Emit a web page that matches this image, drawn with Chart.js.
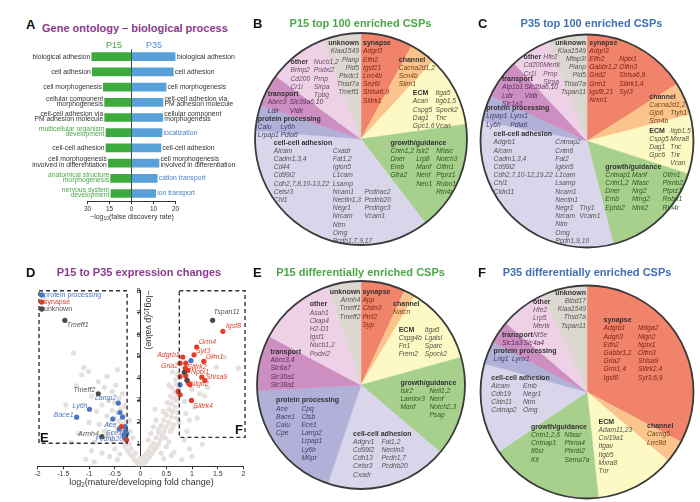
<!DOCTYPE html>
<html>
<head>
<meta charset="utf-8">
<script src="https://cdn.jsdelivr.net/npm/chart.js@4.4.1/dist/chart.umd.min.js"></script>
<style>
body { margin: 0; background: #fff; }
#fig { position: relative; width: 700px; height: 502px; overflow: hidden; font-family: "Liberation Sans", Arial, sans-serif; color: #333; }
#fig canvas { position: absolute; }
.t { position: absolute; line-height: 1; white-space: nowrap; }
.c { transform: translateX(-50%); }
.letter { font-weight: bold; font-size: 13px; color: #111; }
.ttl { font-weight: bold; font-size: 11px; }
sub { font-size: 70%; vertical-align: -0.25em; line-height: 0; }
</style>
</head>
<body>
<div id="fig">
  <canvas id="goLeft" width="140" height="180" style="left:0px;top:40px"></canvas>
  <canvas id="goRight" width="126" height="180" style="left:124px;top:40px"></canvas>
  <canvas id="pieB" width="224" height="224" style="left:248.5px;top:27px"></canvas>
  <canvas id="pieC" width="224" height="224" style="left:474.7px;top:29px"></canvas>
  <canvas id="volcano" width="252" height="215" style="left:0px;top:280px"></canvas>
  <canvas id="pieE" width="224" height="224" style="left:248.6px;top:272.5px"></canvas>
  <canvas id="pieF" width="224" height="224" style="left:474.7px;top:279.7px"></canvas>

  <div class="t letter" style="left:26px;top:17.8px">A</div>
  <div class="t ttl" style="left:42px;top:22.5px;color:#8b3a8f">Gene ontology – biological process</div>
  <div class="t c" style="left:114px;top:40.5px;font-size:9px;color:#45a845">P15</div>
  <div class="t c" style="left:154px;top:40.5px;font-size:9px;color:#4f8fd0">P35</div>
  <div class="t c" style="left:132px;top:213.2px;font-size:7px">−log<sub>10</sub>(false discovery rate)</div>

  <div class="t letter" style="left:253px;top:16.5px">B</div>
  <div class="t ttl c" style="left:360.5px;top:17.8px;color:#4ba748">P15 top 100 enriched CSPs</div>
  <div class="t letter" style="left:478px;top:16.8px">C</div>
  <div class="t ttl c" style="left:591.5px;top:17.8px;color:#3f6fb5">P35 top 100 enriched CSPs</div>

  <div class="t letter" style="left:26px;top:266px">D</div>
  <div class="t ttl c" style="left:139px;top:266.5px;color:#8b3a8f">P15 to P35 expression changes</div>
  <div class="t c" style="left:141.5px;top:477.5px;font-size:9px">log<sub>2</sub>(mature/developing fold change)</div>
  <div class="t" style="left:148px;top:320px;font-size:9px;transform:translate(-50%,-50%) rotate(90deg)">−log<sub>10</sub>(p value)</div>

  <div class="t letter" style="left:253px;top:266px">E</div>
  <div class="t ttl c" style="left:360.5px;top:267px;color:#4ba748">P15 differentially enriched CSPs</div>
  <div class="t letter" style="left:478px;top:266px">F</div>
  <div class="t ttl c" style="left:587px;top:266.8px;color:#3f6fb5">P35 differentially enriched CSPs</div>
</div>

<script>
// ---- panel A: GO terms ----
const GO_P15 = ['biological adhesion', 'cell adhesion', 'cell morphogenesis',
  'cellular component\nmorphogenesis', 'cell-cell adhesion via\nPM adhesion molecule',
  'multicellular organism\ndevelopment', 'cell-cell adhesion',
  'cell morphogenesis\ninvolved in differentiation', 'anatomical structure\nmorphogenesis',
  'nervous system\ndevelopment'];
const GO_P15_VAL = [27.1, 26.7, 19.2, 18.3, 18.3, 17.4, 17.4, 15.8, 14.2, 14.0];
const GO_P35 = ['biological adhesion', 'cell adhesion', 'cell morphogenesis',
  'cell-cell adhesion via\nPM adhesion molecule', 'cellular component\nmorphogenesis',
  'localization', 'cell-cell adhesion', 'cell morphogenesis\ninvolved in differentiation',
  'cation transport', 'ion transport'];
const GO_P35_VAL = [20.0, 19.0, 15.7, 14.3, 14.2, 13.9, 13.4, 12.5, 11.7, 11.0];
const GO_P15_TICKS = [0, 15, 30];
const GO_P35_TICKS = [0, 10, 20];

// ---- pies: categories and gene counts ----
const CATS = ['synapse', 'channel', 'ECM', 'growth/guidance', 'cell-cell adhesion',
  'protein processing', 'transport', 'other', 'unknown'];
const B_COUNTS = [8, 4, 11, 17, 37, 4, 5, 9, 6];
const C_COUNTS = [16, 5, 9, 16, 32, 4, 6, 6, 6];
const E_COUNTS = [4, 1, 7, 9, 11, 11, 5, 7, 3];
const F_COUNTS = [19, 2, 7, 10, 8, 2, 2, 4, 4];

const B_GENES = [
  ['Adgrl3', 'Elfn2', 'Igsf21', 'Lrrc4b', 'Sez6l', 'Shisa6,9', 'Slitrk1'],
  ['Cacna2d1,2', 'Scn4b', 'Stim1'],
  ['Acan', 'Cspg5', 'Dag1', 'Gpc1,6', 'Itga5', 'Itgb1,5', 'Spock2', 'Tnc', 'Vcan'],
  ['Cntn1,2', 'Dner', 'Emb', 'Gfra2', 'Islr2', 'Lrp8', 'Manf', 'Nenf', 'Neo1',
   'Nfasc', 'Notch3', 'Olfm1', 'Ptprz1', 'Robo1', 'Rtn4r'],
  ['Alcam', 'Cadm1,3,4', 'Cd44', 'Cd99l2', 'Cdh2,7,8,10-13,22', 'Celsr3', 'Chl1',
   'Cxadr', 'Fat1,2', 'Iglon5', 'L1cam', 'Lsamp', 'Ncam1', 'Nectin1,3', 'Negr1', 'Nrcam',
   'Ntm', 'Omg', 'Pcdh1,7,9,17', 'Pcdhac2', 'Pcdhb20', 'Pcdhgc3', 'Vcam1'],
  ['Calu', 'Lrpap1', 'Ly6h', 'Pdia6'],
  ['Abcc3', 'Ldlr', 'Slc39a6,10', 'Vldlr'],
  ['Brinp2', 'Cd200', 'Cr1l', 'Nucb1,2', 'Podxl2', 'Prnp', 'Sirpa', 'Tpbg'],
  ['Kiaa1549', 'Pianp', 'Pld5', 'Plxdc1', 'Thsd7a', 'Tmeff1']
];
const C_GENES = [
  ['Adgrl3', 'Elfn2', 'Gabbr1,2', 'Grid2', 'Grm1', 'Igsf8,21', 'Nrxn1',
   'Nptx1', 'Olfm3', 'Shisa6,9', 'Slitrk1,4', 'Syt3'],
  ['Cacna2d1,2', 'Gjb6', 'Scn4b', 'Ttyh1'],
  ['Cspg5', 'Dag1', 'Gpc6', 'Itgb1,5', 'Mxra8', 'Tnc', 'Tnr', 'Vcan'],
  ['Cntnap1', 'Cntn1,2', 'Dner', 'Emb', 'Ephb2', 'Manf', 'Nfasc', 'Nrg2', 'Ntng2', 'Ntrk2',
   'Olfm1', 'Plxnb2', 'Ptprz1', 'Robo1', 'Rtn4r'],
  ['Adgrb1', 'Alcam', 'Cadm1,3,4', 'Cd99l2', 'Cdh2,7,10-12,19,22', 'Chl1', 'Cldn11',
   'Cntnap2', 'Cntn6', 'Fat2', 'Iglon5', 'L1cam', 'Lsamp', 'Ncam1', 'Nectin1', 'Negr1',
   'Nrcam', 'Ntm', 'Omg', 'Pcdh1,9,10', 'Thy1', 'Vcam1'],
  ['Lrpap1', 'Ly6h', 'Lynx1', 'Pdia6'],
  ['Atp1b1', 'Ldlr', 'Slc1a3', 'Slc39a6,10', 'Vldlr'],
  ['Cd200', 'Cr1l', 'Hfe2', 'Mertk', 'Prnp', 'Sirpa'],
  ['Kiaa1549', 'Mfap3l', 'Pianp', 'Pld5', 'Thsd7a', 'Tspan11']
];
const E_GENES = [
  ['App', 'Clstn3', 'Prrt2', 'Syp'],
  ['Nalcn'],
  ['Cspg4b', 'Fn1', 'Frem2', 'Itga5', 'Lgalsl', 'Sparc', 'Spock2'],
  ['Islr2', 'Lamtor3', 'Manf', 'Nell1,2', 'Nenf', 'Notch2,3', 'Psap'],
  ['Adgrv1', 'Cd99l2', 'Cdh13', 'Celsr3', 'Cxadr', 'Fat1,2', 'Nectin3', 'Pcdh1,7', 'Pcdhb20'],
  ['Ace', 'Bace1', 'Calu', 'Cpe', 'Cpq', 'Ctsb', 'Ece1', 'Lamp2', 'Lrpap1', 'Ly6h', 'M6pr'],
  ['Abcc3,4', 'Slc6a7', 'Slc30a1', 'Slc38a1'],
  ['Asah1', 'Ckap4', 'H2-D1', 'Igsf1', 'Nucb1,2', 'Podxl2'],
  ['Armh4', 'Tmeff1', 'Tmeff2']
];
const F_GENES = [
  ['Adgrb1', 'Adgrl3', 'Elfn2', 'Gabbr1,2', 'Gria2', 'Grm1,4', 'Igsf8',
   'Mdga2', 'Nlgn2', 'Nptx1', 'Olfm3', 'Shisa9', 'Slitrk2,4', 'Syt3,6,9'],
  ['Cacng5', 'Lrrc8d'],
  ['Adam11,23', 'Col19a1', 'Itgav', 'Itgb5', 'Mxra8', 'Tnr'],
  ['Cntn1,2,6', 'Cntnap1', 'Il6st', 'Kit', 'Nfasc', 'Plxna4', 'Plxnb2', 'Sema7a'],
  ['Alcam', 'Cdh19', 'Cldn11', 'Cntnap2', 'Emb', 'Negr1', 'Ntm', 'Omg'],
  ['Lrig1', 'Lynx1'],
  ['Slc1a3', 'Slc4a4'],
  ['Hfe2', 'Lrp5', 'Mertk', 'Nt5e'],
  ['Btbd17', 'Kiaa1549', 'Thsd7a', 'Tspan11']
];

// ---- panel D: volcano points (log2 fold change, -log10 p) ----
const PROT_X = [-0.43, -0.99, -1.24, -0.54, -0.40, -0.35, -0.30, -0.41, -0.30, -0.32, -0.27, -0.30, 0.98, 0.77];
const PROT_Y = [2.88, 2.60, 2.24, 2.15, 2.45, 2.24, 1.81, 1.70, 1.58, 1.43, 1.50, 1.28, 4.81, 3.71];
const PROT_NAMES = ['Lamp2', 'Ly6h', 'Bace1', '', '', '', '', 'Ace', '', 'Ece1', '', 'Pcdhb20', '', ''];
const SYN_X = [-0.37, -0.27, 1.60, 1.09, 1.04, 1.23, 0.82, 0.77, 0.88, 0.87, 0.92, 0.88, 0.77,
  1.19, 1.25, 0.91, 0.96, 0.93, 0.73, 0.77, 0.99];
const SYN_Y = [1.81, 1.20, 6.15, 5.43, 5.08, 4.78, 4.98, 4.70, 4.70, 4.47, 4.37, 4.12, 4.09,
  4.06, 3.91, 3.91, 3.71, 3.79, 3.41, 3.26, 3.00];
const SYN_NAMES = ['', '', 'Igsf8', 'Grm4', 'Syt3', 'Grm1', 'Adgrb1', 'Gria2', '', 'Slitrk2', 'Nptx1', '', '',
  'Shisa9', '', 'Nlgn2', '', '', '', '', 'Slitrk4'];
const UNK_X = [-1.47, -0.82, -0.75, 1.40, 0.85, 0.90];
const UNK_Y = [6.65, 3.30, 1.35, 6.65, 4.28, 3.93];
const UNK_NAMES = ['Tmeff1', 'Tmeff2', 'Armh4', 'Tspan11', '', ''];
const BG_PTS = [
  [-0.05, 0.05], [0.03, 0.08], [0.0, 0.15], [-0.08, 0.2], [0.08, 0.18], [-0.12, 0.3], [0.12, 0.3],
  [-0.02, 0.35], [0.05, 0.4], [-0.15, 0.45], [0.18, 0.45], [0.1, 0.55], [-0.1, 0.6], [-0.2, 0.55],
  [0.22, 0.6], [0.15, 0.7], [-0.25, 0.7], [0.27, 0.75], [-0.18, 0.8], [0.3, 0.85], [0.2, 0.9],
  [-0.3, 0.9], [0.35, 1.0], [-0.22, 1.0], [0.25, 1.05], [-0.33, 1.05],
  [-0.45, 0.3], [-0.6, 0.45], [-0.75, 0.6], [-1.06, 0.32], [-0.5, 0.8], [0.45, 0.35], [0.6, 0.5],
  [0.65, 0.65], [0.8, 0.3], [0.5, 0.9], [-0.4, 0.55], [0.4, 0.6], [-0.9, 0.2], [1.0, 0.45],
  [-0.55, 1.2], [-0.65, 1.4], [0.55, 1.1],
  [0.38, 1.2], [0.42, 1.4], [0.3, 1.3], [0.46, 1.6], [0.35, 1.55], [0.5, 1.8], [0.4, 1.85],
  [0.55, 2.0], [0.45, 2.1], [0.6, 2.25], [0.5, 2.35], [0.62, 2.5], [0.55, 2.6], [0.68, 2.7],
  [0.6, 2.85], [0.7, 3.0], [0.64, 3.1], [0.72, 3.25], [0.66, 3.4], [0.74, 3.55], [0.7, 3.75],
  [0.58, 3.2], [0.52, 2.9], [0.65, 1.9], [0.7, 2.2], [0.72, 2.45], [0.48, 1.3], [0.58, 1.6],
  [0.62, 1.75], [0.75, 2.0], [0.36, 1.7], [0.44, 2.5], [0.6, 3.6], [0.68, 3.95], [0.55, 3.7],
  [0.72, 4.2], [0.62, 4.3],
  [0.85, 1.2], [0.9, 1.6], [0.95, 2.1], [0.88, 2.4], [1.05, 2.7], [0.85, 2.95], [1.15, 3.3],
  [1.0, 3.5], [1.3, 3.6], [1.41, 5.04], [1.63, 4.98], [1.47, 4.52], [1.9, 4.47], [1.25, 3.2],
  [1.1, 2.2], [0.95, 0.8], [1.2, 1.0],
  [-0.28, 1.2], [-0.35, 1.35], [-0.25, 1.45], [-0.4, 1.55], [-0.3, 1.65], [-0.45, 1.75],
  [-0.35, 1.9], [-0.28, 2.0], [-0.42, 2.05], [-0.5, 2.2], [-0.32, 2.3], [-0.45, 2.45],
  [-0.38, 2.6], [-0.55, 2.55], [-0.3, 2.75], [-0.5, 2.9], [-0.42, 3.1], [-0.62, 3.0],
  [-0.35, 3.3], [-0.55, 3.4], [-0.48, 3.7], [-0.7, 3.6], [-0.6, 1.9], [-0.65, 2.3], [-0.7, 1.6],
  [-0.58, 1.45], [-0.8, 1.9], [-0.85, 2.5], [-0.75, 2.8],
  [-0.82, 3.86], [-1.14, 4.17], [-1.01, 4.32], [-1.24, 3.67], [-1.1, 4.5], [-1.3, 5.16],
  [-0.95, 3.2], [-1.0, 2.0], [-1.2, 1.5], [-0.9, 1.1], [-1.45, 2.8], [-1.35, 1.1], [-0.65, 4.1],
  [-0.45, 4.4], [-0.95, 0.7],
  [0.15, 1.2], [0.2, 1.5], [0.25, 1.8], [-0.15, 1.3], [-0.2, 1.6], [0.3, 2.1], [-0.22, 2.1], [0.28, 2.6]
];
const BOX_E = [-1.97, -0.26, 1.05, 8.0];   // xmin, xmax, ymin, ymax
const BOX_F = [0.754, 2.03, 1.32, 8.0];

// ---- styling / layout ----
const FONT = '"Liberation Sans", Arial, sans-serif';
const GREEN = '#4aa84a', BLUE = '#4a80c8';
const SLICE_COLORS = ['#f0836a', '#fbc48c', '#fdf9c4', '#a6d08c', '#d9d5ea', '#b1b0d8', '#cd8fc1', '#eed1e7', '#dcd7d1'];
const GENE_COLORS = ['#7d2314', '#6e4418', '#555040', '#2d5a20', '#555555', '#3d3d66', '#5c2a55', '#6b4d66', '#5a5550'];
const LINE = 8.2;

// [header dx, header dy, align, [[col dx, start row, n], ...]]  (px from pie centre)
const B_LAYOUT = [
  [2, -95.7, 'left', [[2, 1, 7]]],
  [37.8, -79, 'left', [[37.8, 1, 3]]],
  [51.8, -45.7, 'left', [[51.8, 1, 4], [74.5, 0, 5]]],
  [29.5, 3.7, 'left', [[29.5, 1, 4], [55.2, 1, 5], [75.2, 1, 6]]],
  [-87.2, 3.7, 'left', [[-87.2, 1, 7], [-28.2, 1, 12], [3.5, 6, 4]]],
  [-103.2, -20, 'left', [[-103.2, 1, 2], [-80.5, 1, 2]]],
  [-93.2, -44.7, 'left', [[-93.2, 1, 2], [-71.2, 1, 2]]],
  [-70.5, -76.7, 'left', [[-70.5, 1, 3], [-47.2, 0, 5]]],
  [-2, -95.7, 'right', [[-2, 1, 6]]]
];
const C_LAYOUT = [
  [2.3, -98.3, 'left', [[2.3, 1, 7], [32.3, 2, 5]]],
  [62.3, -44.3, 'left', [[62.3, 1, 3], [83.3, 2, 1]]],
  [62.3, -10.3, 'left', [[62.3, 1, 3], [83.3, 0, 5]]],
  [18.3, 25.7, 'left', [[18.3, 1, 5], [45, 1, 5], [75.6, 1, 5]]],
  [-93.4, -6.7, 'left', [[-93.4, 1, 7], [-31.7, 1, 13], [-7.4, 9, 2]]],
  [-100.7, -32.7, 'left', [[-100.7, 1, 2], [-76.7, 1, 2]]],
  [-85, -61.7, 'left', [[-85, 1, 3], [-62.4, 1, 2]]],
  [-63.4, -83.7, 'left', [[-63.4, 1, 2], [-43.7, 0, 4]]],
  [-1, -98.3, 'right', [[-1, 1, 6]]]
];
const E_LAYOUT = [
  [1.4, -92.8, 'left', [[1.4, 1, 4]]],
  [32.1, -81.2, 'left', [[32.1, 1, 1]]],
  [37.7, -55.2, 'left', [[37.7, 1, 3], [63.7, 0, 4]]],
  [39.4, -2.2, 'left', [[39.4, 1, 3], [68.4, 1, 4]]],
  [-7.9, 48.8, 'left', [[-7.9, 1, 5], [20.4, 1, 4]]],
  [-84.9, 15.5, 'left', [[-84.9, 1, 4], [-59.6, 1, 7]]],
  [-90.6, -32.8, 'left', [[-90.6, 1, 4]]],
  [-51.3, -80.5, 'left', [[-51.3, 1, 6]]],
  [-0.6, -92.8, 'right', [[-0.6, 1, 3]]]
];
const F_LAYOUT = [
  [16.6, -71.7, 'left', [[16.6, 1, 7], [51, 1, 7]]],
  [60, 34.3, 'left', [[60, 1, 2]]],
  [11.6, 30, 'left', [[11.6, 1, 6]]],
  [-56, 35, 'left', [[-56, 1, 4], [-22.4, 1, 4]]],
  [-95.7, -14.4, 'left', [[-95.7, 1, 4], [-64, 1, 4]]],
  [-93.4, -41, 'left', [[-93.4, 1, 1], [-75, 1, 1]]],
  [-85, -56.7, 'left', [[-85, 1, 1], [-63.4, 1, 1]]],
  [-54, -90, 'left', [[-54, 1, 4]]],
  [-1, -99, 'right', [[-1, 1, 4]]]
];

// label offsets for the volcano plot: [dx, dy, align]
const LABEL_OFFSET = {
  Tmeff1: [2, 5, 'left'], Tmeff2: [-3, -4, 'right'], Armh4: [-3, -3, 'right'], Tspan11: [1, -8, 'left'],
  Lamp2: [-2, -5, 'right'], Ly6h: [-2, -3, 'right'], Bace1: [-3, -2, 'right'], Ace: [-3, -4, 'right'],
  Ece1: [-2, -2, 'right'], Pcdhb20: [-2, 1, 'right'], Igsf8: [3, -5, 'left'], Grm4: [2, -5, 'left'],
  Syt3: [2, -4, 'left'], Grm1: [2, -4, 'left'], Adgrb1: [-3, -2, 'right'], Gria2: [-2, 3, 'right'],
  Slitrk2: [2, -1, 'left'], Nptx1: [3, 2, 'left'], Shisa9: [4, 0, 'left'], Nlgn2: [3, 4, 'left'],
  Slitrk4: [2, 6, 'left']
};

Chart.defaults.font.family = FONT;
Chart.defaults.color = '#333';

// ---------- Panel A ----------
function goLabelsPlugin(colors, centerLine) {
  return {
    id: 'golabels',
    afterDatasetsDraw(chart) {
      const ctx = chart.ctx;
      const meta = chart.getDatasetMeta(0);
      const rev = chart.options.scales.x.reverse;
      ctx.save();
      if (centerLine) {
        const x0 = chart.scales.x.getPixelForValue(0);
        ctx.strokeStyle = '#444';
        ctx.lineWidth = 1;
        ctx.beginPath();
        ctx.moveTo(x0, chart.chartArea.top);
        ctx.lineTo(x0, chart.chartArea.bottom);
        ctx.stroke();
      }
      ctx.font = '6.8px ' + FONT;
      ctx.textBaseline = 'middle';
      ctx.textAlign = rev ? 'right' : 'left';
      meta.data.forEach((bar, i) => {
        const lines = chart.data.labels[i].split('\n');
        const tx = rev ? bar.x - 1.5 : bar.x + 1.5;
        ctx.fillStyle = colors[i];
        if (lines.length === 1) {
          ctx.fillText(lines[0], tx, bar.y);
        } else {
          ctx.fillText(lines[0], tx, bar.y - 3.6);
          ctx.fillText(lines[1], tx, bar.y + 1.8);
        }
      });
      ctx.restore();
    }
  };
}

function goChart(id, labels, values, color, ticks, reverse, padding, colors) {
  new Chart(document.getElementById(id), {
    type: 'bar',
    data: { labels: labels, datasets: [{ data: values, backgroundColor: color, barThickness: 8, borderWidth: 0 }] },
    options: {
      indexAxis: 'y',
      responsive: false,
      animation: false,
      layout: { padding: padding },
      scales: {
        x: {
          type: 'linear', min: 0, max: ticks[ticks.length - 1], reverse: reverse,
          ticks: {
            stepSize: ticks[1], font: { size: 6.5 }, color: '#333', padding: 1, autoSkip: false, maxRotation: 0,
            callback: v => (v === 0 && !reverse) ? '' : String(v)
          },
          grid: { display: true, drawOnChartArea: false, drawTicks: true, tickLength: 3, color: '#333' },
          border: { display: true, color: '#333' },
          afterFit: s => { s.height = 10; }
        },
        y: { display: false }
      },
      plugins: { legend: { display: false }, tooltip: { enabled: false } }
    },
    plugins: [goLabelsPlugin(colors, reverse)]
  });
}

goChart('goLeft', GO_P15, GO_P15_VAL, '#3caa3c', GO_P15_TICKS, true,
  { left: 87.5, right: 8.5, top: 9.1, bottom: 8.9 },
  GO_P15.map(l => GO_P35.includes(l) ? '#333' : GREEN));
goChart('goRight', GO_P35, GO_P35_VAL, '#57a0d8', GO_P35_TICKS, false,
  { left: 7.5, right: 74.5, top: 9.1, bottom: 8.9 },
  GO_P35.map(l => GO_P15.includes(l) ? '#333' : BLUE));

// ---------- Pies ----------
function pieTextPlugin(genes, layout) {
  return {
    id: 'pietext',
    afterDatasetsDraw(chart) {
      const arc = chart.getDatasetMeta(0).data[0];
      const cx = arc.x, cy = arc.y, r = arc.outerRadius;
      const ctx = chart.ctx;
      ctx.save();
      ctx.beginPath();
      ctx.arc(cx, cy, r, 0, Math.PI * 2);
      ctx.lineWidth = 1.8;
      ctx.strokeStyle = '#3a3a3a';
      ctx.stroke();
      ctx.textBaseline = 'middle';
      layout.forEach((lay, i) => {
        const [hx, hy, align, cols] = lay;
        ctx.textAlign = align;
        ctx.font = 'bold 7px ' + FONT;
        ctx.fillStyle = '#333';
        ctx.fillText(CATS[i], cx + hx, cy + hy);
        ctx.font = 'italic 6.7px ' + FONT;
        ctx.fillStyle = GENE_COLORS[i];
        let k = 0;
        cols.forEach(([dx, row, n]) => {
          for (let j = 0; j < n; j++) {
            ctx.fillText(genes[i][k++], cx + dx, cy + hy + (row + j) * LINE);
          }
        });
      });
      ctx.restore();
    }
  };
}

function pieChart(id, counts, genes, layout, radius) {
  new Chart(document.getElementById(id), {
    type: 'pie',
    data: {
      labels: CATS,
      datasets: [{ data: counts, backgroundColor: SLICE_COLORS, borderColor: SLICE_COLORS, borderWidth: 0.5, radius: radius }]
    },
    options: {
      responsive: false,
      animation: false,
      plugins: { legend: { display: false }, tooltip: { enabled: false } }
    },
    plugins: [pieTextPlugin(genes, layout)]
  });
}

pieChart('pieB', B_COUNTS, B_GENES, B_LAYOUT, 106);
pieChart('pieC', C_COUNTS, C_GENES, C_LAYOUT, 106.5);
pieChart('pieE', E_COUNTS, E_GENES, E_LAYOUT, 104);
pieChart('pieF', F_COUNTS, F_GENES, F_LAYOUT, 106.5);

// ---------- Panel D ----------
const pts = (xs, ys) => xs.map((x, i) => ({ x: x, y: ys[i] }));
const SERIES = [
  { name: 'unknown', xs: UNK_X, ys: UNK_Y, names: UNK_NAMES, color: '#4e4a48', text: '#555' },
  { name: 'synapse', xs: SYN_X, ys: SYN_Y, names: SYN_NAMES, color: '#e33d27', text: '#e8432d' },
  { name: 'protein processing', xs: PROT_X, ys: PROT_Y, names: PROT_NAMES, color: '#4a76c4', text: '#4a76c4' }
];

const volcanoPlugin = {
  id: 'volcano',
  afterDatasetsDraw(chart) {
    const ctx = chart.ctx, sx = chart.scales.x, sy = chart.scales.y;
    ctx.save();
    // dashed selection boxes
    ctx.setLineDash([4, 3]);
    ctx.lineWidth = 1.4;
    ctx.strokeStyle = '#333';
    [BOX_E, BOX_F].forEach(b => {
      const x1 = sx.getPixelForValue(b[0]), x2 = sx.getPixelForValue(b[1]);
      const y1 = sy.getPixelForValue(b[3]), y2 = sy.getPixelForValue(b[2]);
      ctx.strokeRect(x1, y1, x2 - x1, y2 - y1);
    });
    ctx.setLineDash([]);
    ctx.fillStyle = '#111';
    ctx.font = 'bold 13px ' + FONT;
    ctx.textBaseline = 'bottom';
    ctx.textAlign = 'left';
    ctx.fillText('E', sx.getPixelForValue(BOX_E[0]) + 1, sy.getPixelForValue(BOX_E[2]) + 1.5);
    ctx.textAlign = 'right';
    ctx.fillText('F', sx.getPixelForValue(BOX_F[1]) - 2, sy.getPixelForValue(BOX_F[2]) - 0.5);

    // legend in the corner of box E
    const lx = sx.getPixelForValue(BOX_E[0]), ly = sy.getPixelForValue(BOX_E[3]);
    ctx.font = '7px ' + FONT;
    ctx.textAlign = 'left';
    ctx.textBaseline = 'middle';
    [SERIES[2], SERIES[1], SERIES[0]].forEach((s, i) => {
      const y = ly + 4.3 + i * 7;
      ctx.fillStyle = s.color;
      ctx.beginPath();
      ctx.arc(lx + 2.7, y, 2.8, 0, Math.PI * 2);
      ctx.fill();
      ctx.fillStyle = s.text;
      ctx.fillText(s.name, lx + 5, y);
    });

    // gene labels
    ctx.font = 'italic 7px ' + FONT;
    SERIES.forEach((s, di) => {
      const meta = chart.getDatasetMeta(di);
      s.names.forEach((nm, i) => {
        if (!nm) return;
        const p = meta.data[i];
        const [dx, dy, al] = LABEL_OFFSET[nm];
        ctx.fillStyle = s.text;
        ctx.textAlign = al;
        ctx.fillText(nm, p.x + dx, p.y + dy);
      });
    });
    ctx.restore();
  }
};

new Chart(document.getElementById('volcano'), {
  type: 'scatter',
  data: {
    datasets: SERIES.map(s => ({
      data: pts(s.xs, s.ys), backgroundColor: s.color, borderWidth: 0, pointRadius: 2.6
    })).concat([{
      data: BG_PTS.map(([x, y]) => ({ x: x, y: y })), backgroundColor: '#e5e0dd', borderWidth: 0, pointRadius: 2.6
    }])
  },
  options: {
    responsive: false,
    animation: false,
    layout: { padding: { left: 37.5, right: 8.5, top: 10.7, bottom: 16.7 } },
    scales: {
      x: {
        type: 'linear', min: -2, max: 2,
        ticks: { stepSize: 0.5, font: { size: 7 }, padding: 1, autoSkip: false, maxRotation: 0, callback: v => String(v) },
        grid: { display: true, drawOnChartArea: false, tickLength: 3, color: '#333' },
        border: { display: true, color: '#333' },
        afterFit: s => { s.height = 12; }
      },
      y: {
        type: 'linear', min: 0, max: 8, position: { x: 0 },
        ticks: { stepSize: 1, font: { size: 7 }, padding: 2, callback: v => v === 0 ? '' : String(v) },
        grid: { display: true, drawOnChartArea: false, tickLength: 3, color: '#333' },
        border: { display: true, color: '#333' }
      }
    },
    plugins: { legend: { display: false }, tooltip: { enabled: false } }
  },
  plugins: [volcanoPlugin]
});
</script>
</body>
</html>
